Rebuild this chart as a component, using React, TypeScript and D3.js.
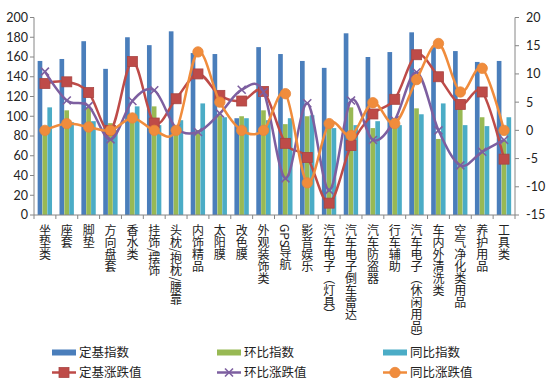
import React from 'react';
import * as d3 from 'd3';

const categories = ['坐垫类','座套','脚垫','方向盘套','香水类','挂饰/摆饰','头枕/抱枕/腰靠','内饰精品','太阳膜','改色膜','外观装饰类','GPS导航','影音娱乐','汽车电子（灯具）','汽车电子倒车雷达','汽车防盗器','行车辅助','汽车电子（休闲用品）','车内外清洗类','空气净化类用品','养护用品','工具类'];

const dingjiIndex = [156,158,176,148,180,172,186,164,163,98,170,163,156,149,184,160,165,185,170,166,155,156];
const huanbiIndex = [86,106,109,93,99,110,87,86,101,100,106,92,100,89,109,88,92,108,77,109,99,76];
const tongbiIndex = [109,94,95,86,110,91,96,113,99,98,96,98,101,88,91,95,91,102,113,91,90,99];

const dingjiChange = [8.3,8.6,6.7,0,12.2,1.3,5.6,10.0,6.2,5.2,6.9,-2.3,-4.8,-12.9,-2.7,2.9,5.5,13.4,9.5,4.6,6.8,-5.1];
const huanbiChange = [10.4,5.3,4.3,-1.6,5.2,7.1,0.4,-0.3,3.0,7.2,6.8,-8.5,4.8,-10.6,5.3,-1.7,1.8,10.3,0,-6.2,-3.8,-1.7];
const tongbiChange = [0,1.2,0.6,0,2.2,0,0,13.9,5.0,0,0,6.5,-9.3,1.2,-0.9,4.9,1.2,9.0,15.4,6.8,11.0,0];

const leftTicks = [0,20,40,60,80,100,120,140,160,180,200];
const rightTicks = [-15,-10,-5,0,5,10,15,20];

const C = {
  blue: '#4A7EBB',
  green: '#98B954',
  aqua: '#4BACC6',
  red: '#BE4B48',
  purple: '#7D5FA0',
  orange: '#F08C3C',
  axis: '#868686',
};

const W = 548, H = 383;
const X0 = 34, X1 = 515, Y0 = 17.5, Y1 = 215;
const NUM_FONT = "Lato, 'Liberation Sans', sans-serif";
const CJK_FONT = "'Noto Sans CJK SC', sans-serif";

export default function App() {
  const x = d3.scaleBand<string>().domain(categories).range([X0, X1]).paddingInner(0).paddingOuter(0);
  const yL = d3.scaleLinear().domain([0, 200]).range([Y1, Y0]);
  const yR = d3.scaleLinear().domain([-15, 20]).range([Y1, Y0]);
  const bw = x.bandwidth() / 4.5;
  const groupOff = (x.bandwidth() - 3 * bw) / 2;

  const barSeries = [
    { data: dingjiIndex, color: C.blue },
    { data: huanbiIndex, color: C.green },
    { data: tongbiIndex, color: C.aqua },
  ];
  const cx = (c: string) => (x(c) as number) + x.bandwidth() / 2;
  const line = d3.line<number>().x((_, i) => cx(categories[i])).y(v => yR(v)).curve(d3.curveCardinal.tension(0));

  const lineSeries = [
    { data: dingjiChange, color: C.red, marker: 'square' },
    { data: huanbiChange, color: C.purple, marker: 'x' },
    { data: tongbiChange, color: C.orange, marker: 'circle' },
  ];

  const marker = (type: string, px: number, py: number, color: string, key: string | number) => {
    if (type === 'square') return <rect key={key} x={px - 5} y={py - 5} width={10} height={10} fill={color} stroke="#A84542" strokeWidth={0.8} />;
    if (type === 'circle') return <circle key={key} cx={px} cy={py} r={5.2} fill={color} stroke="#E9873A" strokeWidth={0.8} />;
    return <path key={key} d={`M${px - 4},${py - 4}L${px + 4},${py + 4}M${px - 4},${py + 4}L${px + 4},${py - 4}`} stroke={color} strokeWidth={1.6} fill="none" />;
  };

  const legendItems = [
    { label: '定基指数', color: C.blue, kind: 'bar', lx: 52, ly: 352.5 },
    { label: '环比指数', color: C.green, kind: 'bar', lx: 217, ly: 352.5 },
    { label: '同比指数', color: C.aqua, kind: 'bar', lx: 383, ly: 352.5 },
    { label: '定基涨跌值', color: C.red, kind: 'square', lx: 52, ly: 372.5 },
    { label: '环比涨跌值', color: C.purple, kind: 'x', lx: 217, ly: 372.5 },
    { label: '同比涨跌值', color: C.orange, kind: 'circle', lx: 383, ly: 372.5 },
  ];

  return (
    <svg width={W} height={H} style={{ position: 'absolute', left: 0, top: 0, background: '#fff' }}>
      {/* bars */}
      {barSeries.map((s, si) => (
        <g key={si}>
          {s.data.map((v, i) => (
            <rect key={i} x={(x(categories[i]) as number) + groupOff + si * bw} y={yL(v)} width={bw - 0.2} height={Y1 - yL(v)} fill={s.color} />
          ))}
        </g>
      ))}
      {/* axes */}
      <g stroke={C.axis} strokeWidth={1} fill="none">
        <line x1={X0} y1={Y0} x2={X0} y2={Y1} />
        <line x1={X1} y1={Y0} x2={X1} y2={Y1} />
        <line x1={X0} y1={Y1} x2={X1} y2={Y1} />
        {leftTicks.map(t => <line key={'l' + t} x1={X0 - 4} x2={X0} y1={yL(t)} y2={yL(t)} />)}
        {rightTicks.map(t => <line key={'r' + t} x1={X1} x2={X1 + 4} y1={yR(t)} y2={yR(t)} />)}
        {categories.map((c, i) => <line key={'c' + i} x1={x(c) as number} x2={x(c) as number} y1={Y1} y2={Y1 + 4} />)}
        <line x1={X1} x2={X1} y1={Y1} y2={Y1 + 4} />
      </g>
      {leftTicks.map(t => (
        <text key={'lt' + t} x={X0 - 6} y={yL(t)} dy="0.35em" textAnchor="end" fontSize={12.5} fontFamily={NUM_FONT} fill="#222">{t}</text>
      ))}
      {rightTicks.map(t => (
        <text key={'rt' + t} x={X1 + 11} y={yR(t)} dy="0.35em" textAnchor="start" fontSize={12.5} fontFamily={NUM_FONT} fill="#222">{t}</text>
      ))}
      {/* category labels */}
      {categories.map((c, i) => (
        <text key={'cl' + i} x={cx(c)} y={224} fontSize={12} fontFamily={CJK_FONT} fill="#222" style={{ writingMode: 'vertical-rl' as any }}>{c}</text>
      ))}
      {/* lines */}
      {lineSeries.map((s, si) => (
        <g key={'ls' + si}>
          <path d={line(s.data) as string} fill="none" stroke={s.color} strokeWidth={2.5} />
          {s.data.map((v, i) => marker(s.marker, cx(categories[i]), yR(v), s.color, i))}
        </g>
      ))}
      {/* legend */}
      {legendItems.map((it, i) => (
        <g key={'lg' + i}>
          {it.kind === 'bar' ? (
            <rect x={it.lx} y={it.ly - 3} width={24} height={6} fill={it.color} />
          ) : (
            <g>
              <line x1={it.lx} x2={it.lx + 24} y1={it.ly} y2={it.ly} stroke={it.color} strokeWidth={2.5} />
              {marker(it.kind, it.lx + 12, it.ly, it.color, 'm')}
            </g>
          )}
          <text x={it.lx + 27} y={it.ly} dy="0.36em" fontSize={12.5} fontFamily={CJK_FONT} fill="#222">{it.label}</text>
        </g>
      ))}
    </svg>
  );
}
